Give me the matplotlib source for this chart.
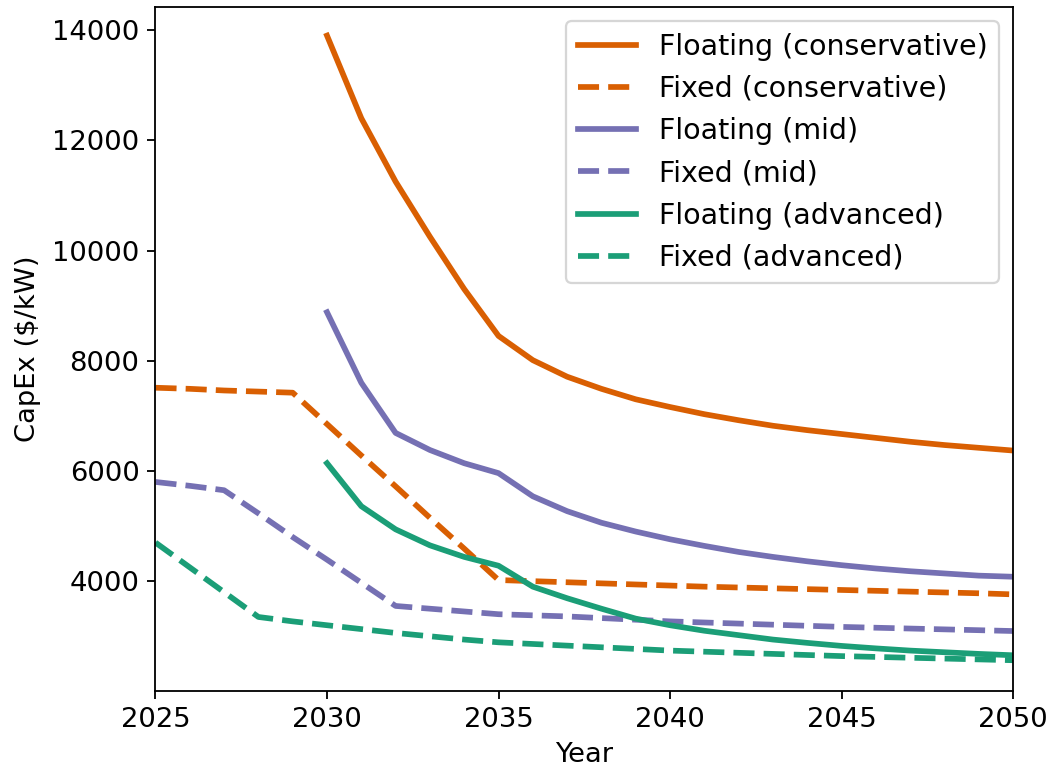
import matplotlib
matplotlib.use("Agg")
import matplotlib.pyplot as plt

# years
years_float = list(range(2030, 2051))
years_fixed = list(range(2025, 2051))

# CapEx ($/kW), floating platforms
floating_conservative = [13900, 12400, 11250, 10250, 9300, 8450, 8010, 7710, 7490, 7300,
                         7160, 7030, 6920, 6820, 6740, 6670, 6600, 6530, 6470, 6420, 6370]
floating_mid = [8880, 7600, 6690, 6380, 6140, 5960, 5540, 5270, 5060, 4900,
                4760, 4640, 4530, 4440, 4360, 4290, 4230, 4180, 4140, 4100, 4080]
floating_advanced = [6140, 5360, 4940, 4650, 4440, 4280, 3900, 3690, 3500, 3320,
                     3200, 3100, 3020, 2940, 2880, 2825, 2780, 2740, 2710, 2680, 2655]

# CapEx ($/kW), fixed-bottom
fixed_conservative = [7510, 7490, 7460, 7440, 7420, 6850, 6280, 5720, 5150, 4590,
                      4020, 4000, 3980, 3960, 3940, 3920, 3900, 3885, 3870, 3855,
                      3840, 3825, 3810, 3795, 3780, 3760]
fixed_mid = [5800, 5730, 5650, 5230, 4800, 4390, 3970, 3550, 3500, 3450,
             3400, 3380, 3360, 3330, 3300, 3270, 3250, 3230, 3210, 3190,
             3170, 3155, 3140, 3125, 3110, 3095]
fixed_advanced = [4700, 4250, 3800, 3350, 3270, 3200, 3130, 3060, 3000, 2940,
                  2890, 2860, 2830, 2800, 2770, 2740, 2720, 2700, 2680, 2660,
                  2640, 2625, 2610, 2595, 2580, 2565]

c_cons = "#d95f02"
c_mid = "#7570b3"
c_adv = "#1b9e77"

plt.rcParams['font.size'] = 12

fig, ax = plt.subplots(figsize=(1052/164, 771/164), dpi=164)
fig.subplots_adjust(left=0.1478, right=0.963, top=0.991, bottom=0.104)

lw = 2.5
ax.plot(years_float, floating_conservative, color=c_cons, lw=lw, label="Floating (conservative)")
ax.plot(years_fixed, fixed_conservative, color=c_cons, lw=lw, ls="--", label="Fixed (conservative)")
ax.plot(years_float, floating_mid, color=c_mid, lw=lw, label="Floating (mid)")
ax.plot(years_fixed, fixed_mid, color=c_mid, lw=lw, ls="--", label="Fixed (mid)")
ax.plot(years_float, floating_advanced, color=c_adv, lw=lw, label="Floating (advanced)")
ax.plot(years_fixed, fixed_advanced, color=c_adv, lw=lw, ls="--", label="Fixed (advanced)")

ax.set_xlim(2025, 2050)
ax.set_ylim(2010, 14420)
ax.set_xlabel("Year")
ax.set_ylabel("CapEx ($/kW)", labelpad=5)
ax.legend(loc="upper right", fontsize=12.5, handlelength=2.05)

plt.savefig("out.png", dpi=164)
